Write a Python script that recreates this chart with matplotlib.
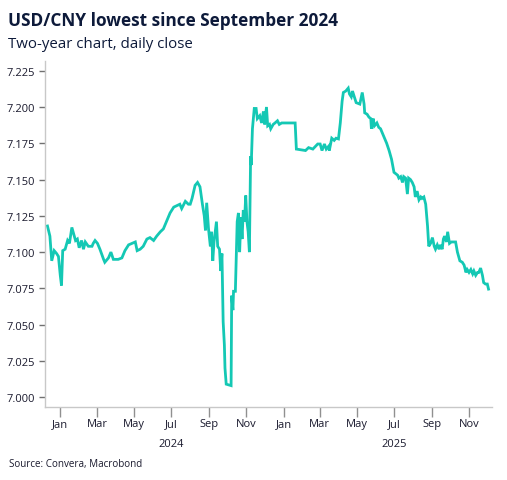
import numpy as np
import pandas as pd
import matplotlib
matplotlib.use("Agg")
import matplotlib.pyplot as plt
import matplotlib.dates as mdates

plt.rcParams['font.family'] = ['Open Sans', 'DejaVu Sans']

# valori (data, chiusura USD/CNY)
date = [
    "2023-12-11", "2023-12-15", "2023-12-18", "2023-12-22", "2023-12-26", "2023-12-29",
    "2024-01-01", "2024-01-03", "2024-01-05", "2024-01-09", "2024-01-13", "2024-01-16",
    "2024-01-20", "2024-01-23", "2024-01-26", "2024-01-29", "2024-02-01", "2024-02-05",
    "2024-02-08", "2024-02-11", "2024-02-16", "2024-02-22", "2024-02-24", "2024-02-27",
    "2024-03-02", "2024-03-06", "2024-03-12", "2024-03-14", "2024-03-20", "2024-03-24",
    "2024-03-28", "2024-04-05", "2024-04-11", "2024-04-16", "2024-04-22", "2024-05-03",
    "2024-05-06", "2024-05-11", "2024-05-16", "2024-05-22", "2024-05-27", "2024-06-02",
    "2024-06-07", "2024-06-13", "2024-06-18", "2024-06-24", "2024-06-29", "2024-07-05",
    "2024-07-10", "2024-07-15", "2024-07-18", "2024-07-24", "2024-07-29", "2024-08-01",
    "2024-08-04", "2024-08-09", "2024-08-13", "2024-08-17", "2024-08-21", "2024-08-24",
    "2024-08-26", "2024-08-28", "2024-08-31", "2024-09-03", "2024-09-05", "2024-09-07",
    "2024-09-09", "2024-09-13", "2024-09-15", "2024-09-18", "2024-09-20", "2024-09-22",
    "2024-09-24", "2024-09-26", "2024-09-27", "2024-09-29", "2024-10-07", "2024-10-08",
    "2024-10-10", "2024-10-11", "2024-10-14", "2024-10-17", "2024-10-19", "2024-10-21",
    "2024-10-23", "2024-10-25", "2024-10-27", "2024-10-29", "2024-10-31", "2024-11-02",
    "2024-11-04", "2024-11-06", "2024-11-08", "2024-11-09", "2024-11-11", "2024-11-14",
    "2024-11-17", "2024-11-19", "2024-11-23", "2024-11-26", "2024-11-29", "2024-12-01",
    "2024-12-04", "2024-12-06", "2024-12-09", "2024-12-11", "2024-12-15", "2024-12-18",
    "2024-12-22", "2024-12-25", "2024-12-29", "2025-01-04", "2025-01-09", "2025-01-20",
    "2025-01-22", "2025-01-28", "2025-02-06", "2025-02-11", "2025-02-18", "2025-02-26",
    "2025-03-02", "2025-03-05", "2025-03-09", "2025-03-12", "2025-03-16", "2025-03-17",
    "2025-03-21", "2025-03-25", "2025-03-28", "2025-04-01", "2025-04-04", "2025-04-07",
    "2025-04-09", "2025-04-13", "2025-04-17", "2025-04-19", "2025-04-22", "2025-04-24",
    "2025-04-27", "2025-04-30", "2025-05-06", "2025-05-10", "2025-05-13", "2025-05-14",
    "2025-05-18", "2025-05-21", "2025-05-24", "2025-05-25", "2025-05-28", "2025-05-30",
    "2025-06-03", "2025-06-06", "2025-06-09", "2025-06-15", "2025-06-19", "2025-06-23",
    "2025-06-27", "2025-07-01", "2025-07-07", "2025-07-09", "2025-07-12", "2025-07-15",
    "2025-07-17", "2025-07-20", "2025-07-23", "2025-07-25", "2025-07-28", "2025-07-31",
    "2025-08-03", "2025-08-05", "2025-08-08", "2025-08-11", "2025-08-14", "2025-08-16",
    "2025-08-19", "2025-08-22", "2025-08-25", "2025-08-27", "2025-08-30", "2025-09-02",
    "2025-09-05", "2025-09-07", "2025-09-10", "2025-09-13", "2025-09-15", "2025-09-18",
    "2025-09-20", "2025-09-22", "2025-09-25", "2025-09-27", "2025-09-30", "2025-10-03",
    "2025-10-07", "2025-10-10", "2025-10-13", "2025-10-17", "2025-10-21", "2025-10-24",
    "2025-10-27", "2025-10-29", "2025-11-01", "2025-11-04", "2025-11-07", "2025-11-09",
    "2025-11-12", "2025-11-15", "2025-11-17", "2025-11-20", "2025-11-23", "2025-11-25",
    "2025-11-28", "2025-12-01", "2025-12-03",
]
usdcny = [
    7.118, 7.111, 7.094, 7.101, 7.099, 7.097,
    7.084, 7.077, 7.101, 7.102, 7.108, 7.106,
    7.117, 7.1125, 7.108, 7.109, 7.103, 7.108,
    7.102, 7.107, 7.104, 7.104, 7.106, 7.108,
    7.106, 7.102, 7.095, 7.093, 7.096, 7.100,
    7.095, 7.095, 7.096, 7.101, 7.105, 7.107,
    7.101, 7.102, 7.104, 7.109, 7.110, 7.108,
    7.111, 7.114, 7.116, 7.122, 7.127, 7.131,
    7.132, 7.133, 7.130, 7.135, 7.133, 7.133,
    7.137, 7.146, 7.148, 7.145, 7.133, 7.125,
    7.115, 7.134, 7.116, 7.104, 7.114, 7.094,
    7.107, 7.121, 7.104, 7.102, 7.087, 7.099,
    7.052, 7.036, 7.020, 7.009, 7.008, 7.070,
    7.060, 7.073, 7.073, 7.121, 7.127, 7.100,
    7.124, 7.109, 7.129, 7.121, 7.139, 7.121,
    7.114, 7.100, 7.166, 7.160, 7.185, 7.199,
    7.199, 7.192, 7.194, 7.189, 7.197, 7.188,
    7.200, 7.187, 7.188, 7.185, 7.188, 7.189,
    7.1905, 7.188, 7.189, 7.189, 7.189, 7.189,
    7.171, 7.1706, 7.170, 7.172, 7.171, 7.1745,
    7.1745, 7.170, 7.1745, 7.171, 7.173, 7.170,
    7.1785, 7.177, 7.1785, 7.178, 7.189, 7.204,
    7.210, 7.211, 7.213, 7.209, 7.207, 7.211,
    7.207, 7.203, 7.202, 7.210, 7.202, 7.196,
    7.195, 7.193, 7.192, 7.185, 7.192, 7.187,
    7.189, 7.186, 7.185, 7.179, 7.175, 7.170,
    7.164, 7.155, 7.153, 7.151, 7.152, 7.148,
    7.152, 7.151, 7.140, 7.151, 7.150, 7.148,
    7.145, 7.138, 7.142, 7.136, 7.138, 7.137,
    7.138, 7.133, 7.118, 7.104, 7.106, 7.110,
    7.104, 7.102, 7.105, 7.102, 7.105, 7.102,
    7.109, 7.111, 7.107, 7.114, 7.106, 7.107,
    7.107, 7.107, 7.100, 7.094, 7.093, 7.091,
    7.086, 7.088, 7.086, 7.088, 7.085, 7.087,
    7.084, 7.086, 7.086, 7.089, 7.084, 7.079,
    7.078, 7.078, 7.0745,
]
y_ticks = [7.000, 7.025, 7.050, 7.075, 7.100, 7.125, 7.150, 7.175, 7.200, 7.225]
anni = ["2024", "2025"]

x = pd.to_datetime(date)

fig = plt.figure(figsize=(5.07, 4.81), dpi=100)
ax = fig.add_axes([0.0888, 0.151, 0.882, 0.721])

ax.plot(x, usdcny, color='#14c8b4', lw=2.0, solid_joinstyle='miter')

ax.set_xlim(pd.Timestamp("2023-12-07"), pd.Timestamp("2025-12-09"))
ax.set_ylim(6.993, 7.232)
ax.set_yticks(y_ticks)
ax.set_yticklabels([f"{v:.3f}" for v in y_ticks])

ax.xaxis.set_major_locator(mdates.MonthLocator(bymonth=[1, 3, 5, 7, 9, 11]))
ax.xaxis.set_major_formatter(mdates.DateFormatter('%b'))

for s in ['top', 'right']:
    ax.spines[s].set_visible(False)
for s in ['left', 'bottom']:
    ax.spines[s].set_color('#c8c8c8')
    ax.spines[s].set_linewidth(1.0)

ax.tick_params(axis='y', length=4, width=1, color='#707070', labelsize=8,
               labelcolor='#1a1a2e', pad=3)
ax.tick_params(axis='x', length=4, width=1, color='#909090', labelsize=8,
               labelcolor='#1a1a2e', pad=4)
# tacche di gennaio più lunghe
for t in ax.xaxis.get_major_ticks():
    if mdates.num2date(t.get_loc()).month == 1:
        t.tick1line.set_markersize(7)

for i, anno in enumerate(anni):
    ax.text(pd.Timestamp(f"{anno}-07-01"), -0.088, anno, transform=ax.get_xaxis_transform(),
            ha='center', va='top', fontsize=8, color='#1a1a2e')

fig.text(0.016, 0.946, "USD/CNY lowest since September 2024", fontsize=12.4,
         fontweight='bold', color='#0d1a3a', va='baseline')
fig.text(0.016, 0.8996, "Two-year chart, daily close", fontsize=10.8,
         color='#0d1a3a', va='baseline')
fig.text(0.018, 0.03, "Source: Convera, Macrobond", fontsize=7.1,
         color='#1a1a2e', va='baseline')

fig.savefig("out.png", dpi=100)
